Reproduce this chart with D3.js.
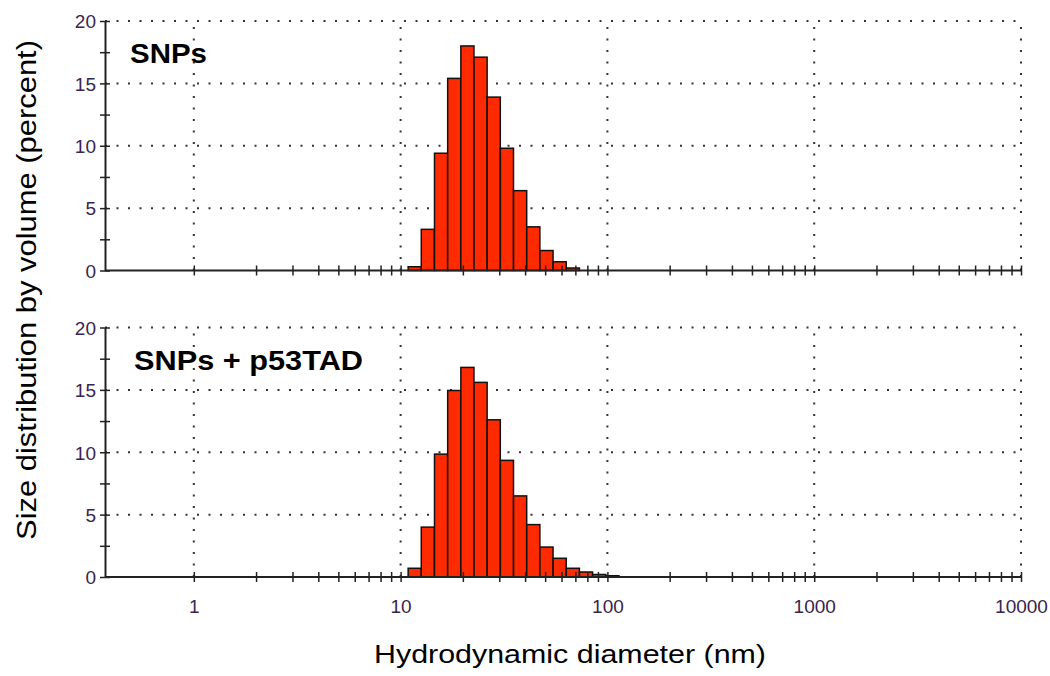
<!DOCTYPE html>
<html>
<head>
<meta charset="utf-8">
<script src="https://cdn.jsdelivr.net/npm/d3@7"></script>
<style>
  body { margin: 0; background: #fff; }
  text { font-family: "Liberation Sans", Arial, sans-serif; }
</style>
</head>
<body>
<svg id="drawing_region"></svg>
<script>
// bin centres (nm) of the size classes that hold volume
const sizes = [11.70, 13.54, 15.69, 18.17, 21.04, 24.36, 28.21, 32.67, 37.84, 43.82, 50.75, 58.77, 68.06, 78.82, 91.28, 105.7];
// percent by volume
const snps    = [0.3, 3.3, 9.4, 15.4, 18.0, 17.1, 13.9, 9.8, 6.4, 3.5, 1.6, 0.7, 0.2, 0, 0, 0];
const snpsP53 = [0.7, 4.0, 9.85, 14.95, 16.8, 15.6, 12.6, 9.35, 6.5, 4.2, 2.4, 1.5, 0.7, 0.4, 0.2, 0.1];
const decades = [1, 10, 100, 1000, 10000];
const yTicks = [0, 5, 10, 15, 20];
const panelTitles = ['SNPs', 'SNPs + p53TAD'];

const config = {
    width: 1050,
    height: 676,
    left: 105,
    right: 1021,
    panels: [{top: 21, bottom: 270.5}, {top: 327.5, bottom: 577}],
    barColor: '#ff2a00'
};

const svg = d3.select('#drawing_region')
    .attr('width', config.width)
    .attr('height', config.height);

const x = d3.scaleLog()
    .domain([0.372, 10000])
    .range([config.left, config.right]);

// half a bin in ratio terms
const halfBin = Math.sqrt(sizes[1] / sizes[0]);
const minorTicks = x.ticks().filter(d => d >= 1);

function drawPanel(idx, values){
    const p = config.panels[idx];
    const y = d3.scaleLinear().domain([0, 20]).range([p.bottom, p.top]);
    const g = svg.append('g');

    // dotted grid
    g.selectAll('.hgrid')
        .data(yTicks.filter(d => d > 0))
        .enter().append('line')
        .attr('x1', config.left).attr('x2', config.right)
        .attr('y1', d => y(d)).attr('y2', d => y(d))
        .attr('stroke', '#333')
        .attr('stroke-width', 2)
        .attr('stroke-dasharray', '2,9.5');

    g.selectAll('.vgrid')
        .data(decades)
        .enter().append('line')
        .attr('x1', d => x(d)).attr('x2', d => x(d))
        .attr('y1', p.bottom).attr('y2', p.top)
        .attr('stroke', '#333')
        .attr('stroke-width', 2)
        .attr('stroke-dasharray', '2,9.5');

    // bars
    const bins = sizes.map((s, i) => ({size: s, value: values[i]})).filter(d => d.value > 0);
    g.selectAll('.bar')
        .data(bins)
        .enter().append('rect')
        .attr('x', d => x(d.size / halfBin))
        .attr('width', d => x(d.size * halfBin) - x(d.size / halfBin))
        .attr('y', d => y(d.value))
        .attr('height', d => y(0) - y(d.value))
        .attr('fill', config.barColor)
        .attr('stroke', '#111')
        .attr('stroke-width', 1.5);

    // x axis with ticks crossing the line
    const xAxis = g.append('g')
        .attr('transform', `translate(0,${p.bottom})`)
        .call(d3.axisBottom(x).tickValues(minorTicks).tickSizeOuter(0)
            .tickFormat(d => (idx === 1 && decades.includes(d)) ? d3.format('d')(d) : ''));
    xAxis.select('.domain').attr('stroke', '#222').attr('stroke-width', 2)
        .attr('d', `M${config.left},0H${config.right}`);
    xAxis.selectAll('.tick line').attr('y1', -5).attr('y2', 5)
        .attr('stroke', '#222').attr('stroke-width', 1.5);
    xAxis.selectAll('.tick text')
        .attr('y', 0).attr('dy', 36)
        .attr('font-size', '19px')
        .attr('font-family', '"Liberation Sans", Arial, sans-serif')
        .attr('fill', '#3a2450');

    // y axis
    const yAxis = g.append('g')
        .attr('transform', `translate(${config.left},0)`)
        .call(d3.axisLeft(y).tickValues(d3.range(0, 20.1, 2.5)).tickSizeOuter(0)
            .tickFormat(d => yTicks.includes(d) ? d : ''));
    yAxis.select('.domain').attr('stroke', '#222').attr('stroke-width', 2);
    yAxis.selectAll('.tick line').attr('x1', -5).attr('x2', 5)
        .attr('stroke', '#222').attr('stroke-width', 1.5);
    yAxis.selectAll('.tick text')
        .attr('x', -9)
        .attr('dy', '0.36em')
        .attr('font-size', '19px')
        .attr('font-family', '"Liberation Sans", Arial, sans-serif')
        .attr('fill', '#3a2450');

    // panel title
    g.append('text')
        .attr('x', idx === 0 ? 130 : 134)
        .attr('y', p.top + 42)
        .attr('font-size', '28px')
        .attr('font-weight', 'bold')
        .attr('textLength', idx === 0 ? 77 : 229)
        .attr('lengthAdjust', 'spacingAndGlyphs')
        .text(panelTitles[idx]);
}

drawPanel(0, snps);
drawPanel(1, snpsP53);

svg.append('text')
    .attr('x', 570)
    .attr('y', 663)
    .attr('text-anchor', 'middle')
    .attr('font-size', '26px')
    .attr('textLength', 392)
    .attr('lengthAdjust', 'spacingAndGlyphs')
    .text('Hydrodynamic diameter (nm)');

svg.append('text')
    .attr('transform', 'translate(36,290) rotate(-90)')
    .attr('text-anchor', 'middle')
    .attr('font-size', '27px')
    .attr('textLength', 500)
    .attr('lengthAdjust', 'spacingAndGlyphs')
    .text('Size distribution by volume (percent)');
</script>
</body>
</html>
